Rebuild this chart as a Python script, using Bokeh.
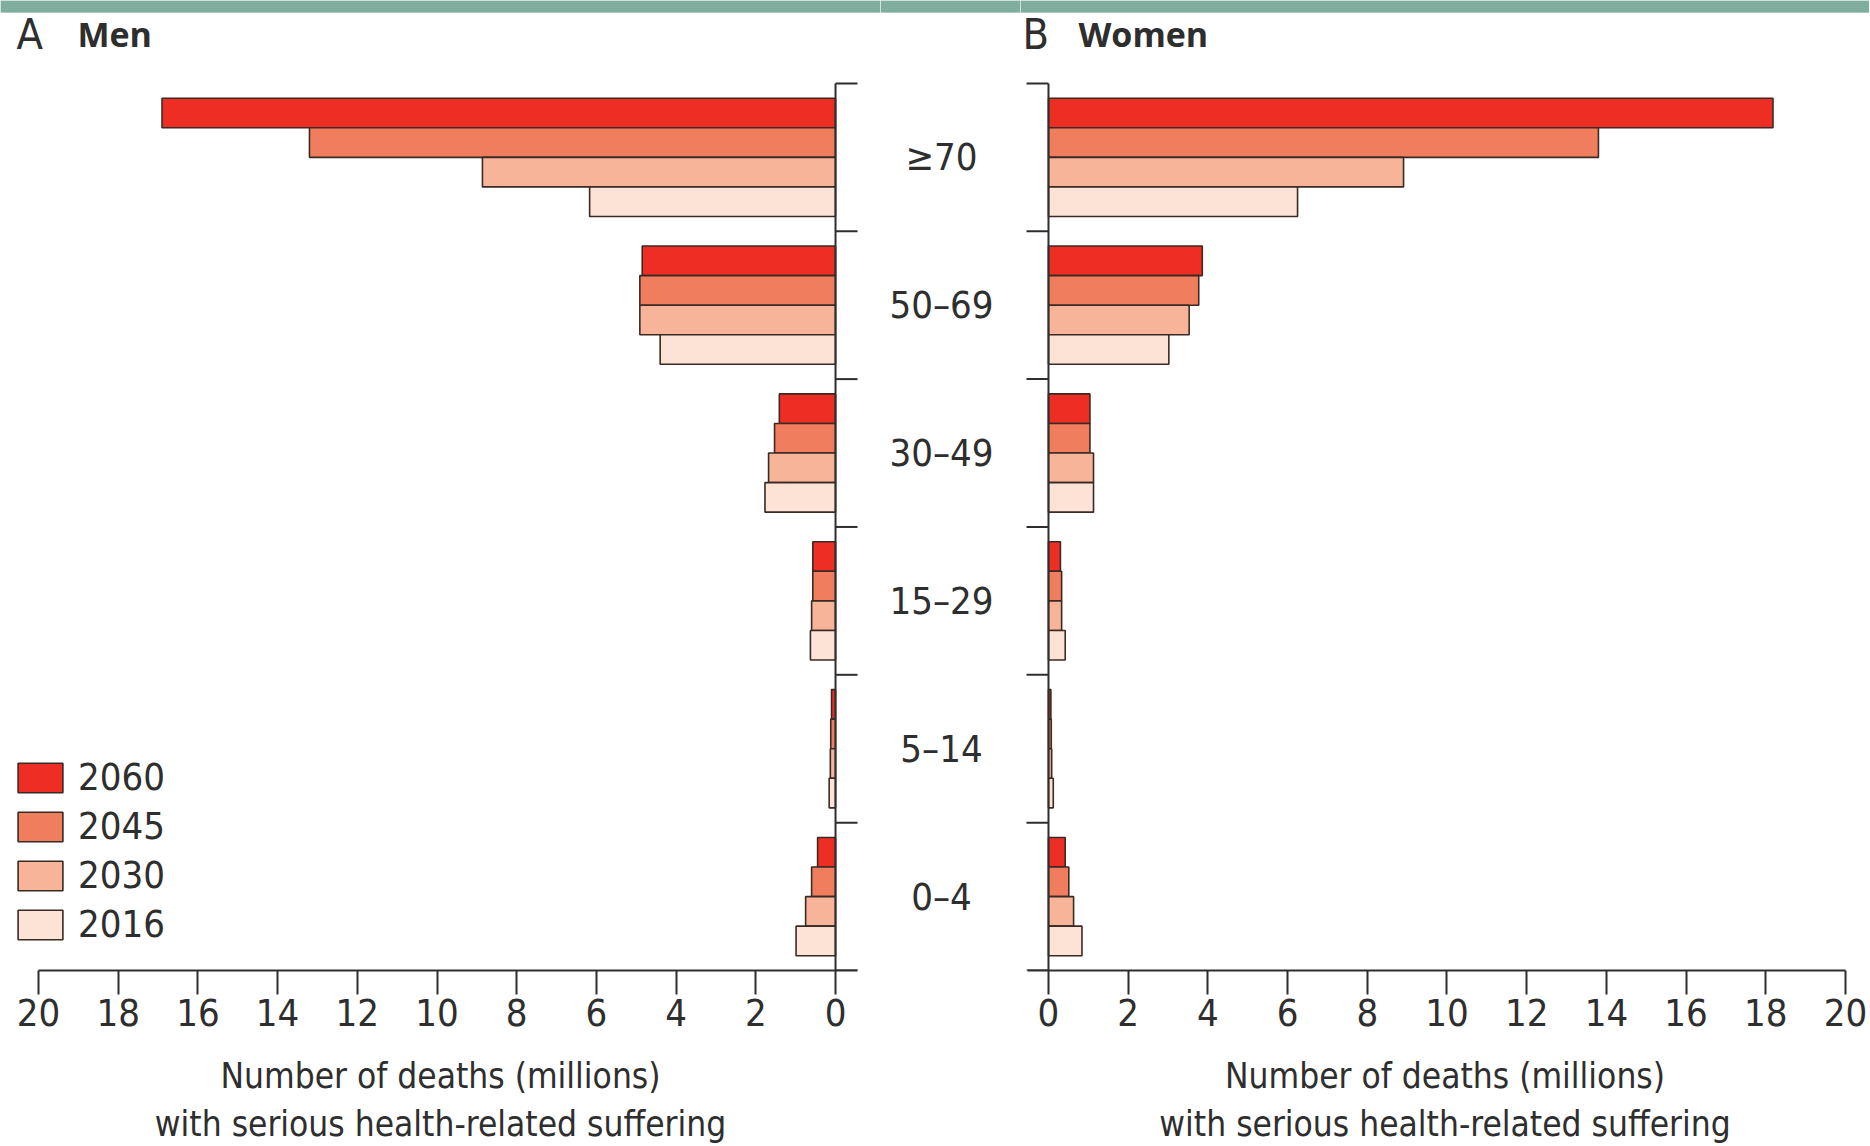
from bokeh.plotting import figure
from bokeh.models import Range1d, FixedTicker, Legend, LegendItem, ColumnDataSource, BoxAnnotation
from bokeh.layouts import row
from bokeh.embed import file_html
from bokeh.resources import INLINE
from bokeh.core.properties import value

# ---------------- data ----------------
age_groups = ["0–4", "5–14", "15–29", "30–49", "50–69", "≥70"]   # bottom -> top
years = ["2060", "2045", "2030", "2016"]                          # top -> bottom inside a group

men = {
    "2060": [0.45, 0.10, 0.57, 1.41, 4.85, 16.9],
    "2045": [0.60, 0.12, 0.57, 1.53, 4.91, 13.2],
    "2030": [0.75, 0.13, 0.60, 1.68, 4.91, 8.86],
    "2016": [0.99, 0.16, 0.63, 1.77, 4.40, 6.17],
}
women = {
    "2060": [0.42, 0.06, 0.30, 1.04, 3.86, 18.18],
    "2045": [0.51, 0.07, 0.33, 1.04, 3.77, 13.80],
    "2030": [0.63, 0.08, 0.33, 1.13, 3.53, 8.91],
    "2016": [0.84, 0.12, 0.42, 1.13, 3.02, 6.25],
}
x_max = 20
x_ticks = list(range(0, 21, 2))
panel_titles = [("A", "Men"), ("B", "Women")]
axis_title = "Number of deaths (millions)\nwith serious health-related suffering"

# ---------------- style / layout (pixels) ----------------
colors = {"2060": "#ee2e24", "2045": "#f07e5e", "2030": "#f8b498", "2016": "#fde3d5"}
edge = "#3a2a24"
ink = "#2e2e2e"
teal = "#7fae9f"
FONT = "Liberation Sans Narrow, DejaVu Sans Condensed, sans-serif"
BAR_H = 0.2
offsets = {"2060": 0.3, "2045": 0.1, "2030": -0.1, "2016": -0.3}

PX = 39.87          # pixels per million
BAND = 148.0        # pixels per age group
TICK = 22           # length of the age-group ticks
FRAME_TOP_GAP = 83  # space above the top age band (strip + titles live there)
STRIP = 12          # teal strip at the very top
TITLE_RISE = 49     # centre of the panel titles above the top band
H = 1146
BOTTOM = H - int(round(FRAME_TOP_GAP + BAND * len(age_groups)))
L_LEFT_PAD = 38     # left figure: pixels left of x=20
L_RIGHT_PAD = 45    # left figure: pixels right of x=0
R_LEFT_PAD = 28     # right figure: pixels left of x=0
R_RIGHT_PAD = 24    # right figure: pixels right of x=20
MID_W = 140
LABEL_CX = 61 / MID_W
n = len(age_groups)
y_top = n + FRAME_TOP_GAP / BAND
title_y = n + TITLE_RISE / BAND


def style_xaxis(p, bounds):
    xa = p.xaxis[0]
    xa.ticker = FixedTicker(ticks=x_ticks)
    xa.bounds = bounds
    xa.major_tick_in = 0
    xa.major_tick_out = 24
    xa.minor_tick_line_color = None
    xa.axis_line_width = 2
    xa.axis_line_color = ink
    xa.major_tick_line_width = 2
    xa.major_tick_line_color = ink
    xa.major_label_text_font = FONT
    xa.major_label_text_font_size = "38px"
    xa.major_label_text_color = ink
    xa.major_label_standoff = 4
    xa.axis_label = axis_title
    xa.axis_label_text_font = FONT
    xa.axis_label_text_font_size = "35px"
    xa.axis_label_text_font_style = "normal"
    xa.axis_label_text_color = ink
    xa.axis_label_standoff = 27


def add_strip(p):
    p.add_layout(BoxAnnotation(bottom=y_top - STRIP / BAND, top=y_top, fill_color=teal,
                               fill_alpha=1, line_color=teal, line_width=1))


def make_panel(x_range, width):
    p = figure(width=width, height=H, x_range=x_range, y_range=Range1d(0, y_top),
               output_backend="svg", toolbar_location=None, y_axis_location=None,
               min_border_top=0, min_border_bottom=BOTTOM,
               min_border_left=0, min_border_right=0)
    p.outline_line_color = None
    p.grid.visible = False
    p.background_fill_color = "white"
    p.border_fill_color = "white"
    add_strip(p)
    return p


def add_age_axis(p, tick_dir):
    # vertical axis line at x = 0 with ticks at the age-group boundaries
    bounds = list(range(n + 1))
    p.segment(x0=[0], y0=[0], x1=[0], y1=[n], line_color=ink, line_width=2)
    p.segment(x0=[0] * len(bounds), y0=bounds, x1=[tick_dir * TICK / PX] * len(bounds), y1=bounds,
              line_color=ink, line_width=2)


def add_bars(p, data):
    rends = {}
    for yr in years:
        src = ColumnDataSource(dict(
            y=[i + 0.5 + offsets[yr] for i in range(n)],
            v=data[yr],
        ))
        rends[yr] = p.hbar(y="y", left=0, right="v", height=BAR_H, source=src,
                           fill_color=colors[yr], line_color=edge, line_width=1.6)
    return rends


def add_title(p, x_letter, x_word, letter, word):
    p.text(x=[x_letter], y=[title_y], text=[letter], text_font=value(FONT), text_font_size="43px",
           text_color=ink, text_align="left", text_baseline="middle")
    p.text(x=[x_word], y=[title_y], text=[word], text_font=value("Open Sans"), text_font_size="34px",
           text_font_style="bold", text_color=ink, text_align="left", text_baseline="middle")


# ---------------- left panel: men ----------------
l_start = x_max + L_LEFT_PAD / PX
l_end = -L_RIGHT_PAD / PX
left = make_panel(Range1d(l_start, l_end), int(round((l_start - l_end) * PX)))
style_xaxis(left, (-TICK / PX, x_max))
r_men = add_bars(left, men)
add_age_axis(left, -1)
add_title(left, x_max + (L_LEFT_PAD - 16) / PX, x_max - (77 - L_LEFT_PAD) / PX, *panel_titles[0])

legend = Legend(items=[LegendItem(label=yr, renderers=[r_men[yr]]) for yr in years],
                location=(12, 24), orientation="vertical",
                glyph_width=56, glyph_height=37, label_standoff=10,
                label_text_font=FONT, label_text_font_size="38px", label_text_color=ink,
                spacing=5, padding=0, margin=0,
                background_fill_alpha=0, border_line_color=None)
left.add_layout(legend, "center")

# ---------------- middle: age labels ----------------
mid = figure(width=MID_W, height=H, x_range=Range1d(0, 1), y_range=Range1d(0, y_top),
             output_backend="svg", toolbar_location=None,
             min_border_top=0, min_border_bottom=BOTTOM, min_border_left=0, min_border_right=0)
mid.axis.visible = False
mid.grid.visible = False
mid.outline_line_color = None
add_strip(mid)
mid.text(x=[LABEL_CX] * n, y=[i + 0.5 for i in range(n)], text=age_groups,
         text_align="center", text_baseline="middle", text_font=value(FONT),
         text_font_size="38px", text_color=ink)

# ---------------- right panel: women ----------------
r_start = -R_LEFT_PAD / PX
r_end = x_max + R_RIGHT_PAD / PX
right = make_panel(Range1d(r_start, r_end), int(round((r_end - r_start) * PX)))
style_xaxis(right, (-(TICK - 1) / PX, x_max))
add_bars(right, women)
add_age_axis(right, -1)
add_title(right, -26 / PX, 30 / PX, *panel_titles[1])

layout = row(left, mid, right, spacing=0)

open("out.html", "w").write(file_html(layout, INLINE))
